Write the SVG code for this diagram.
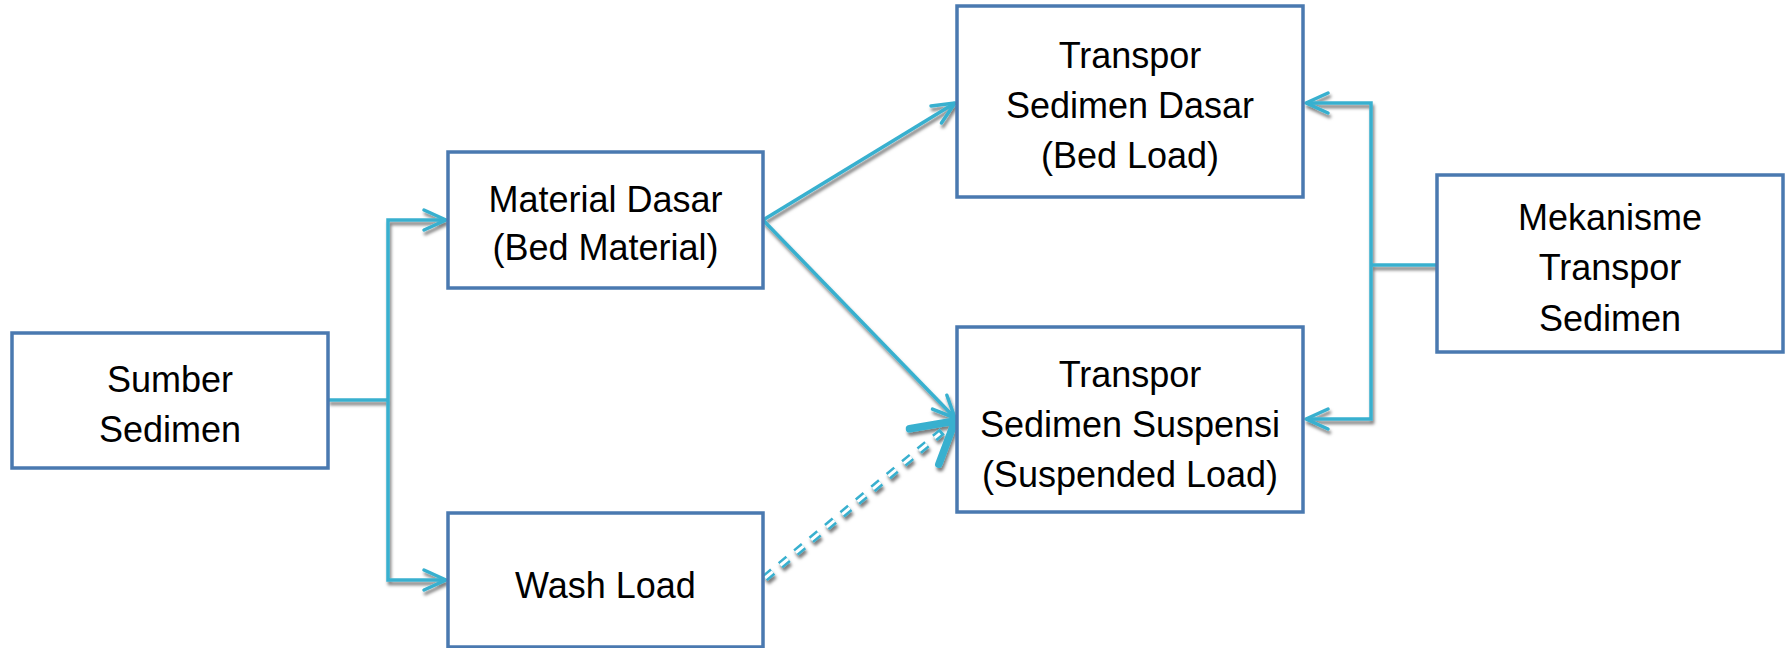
<svg xmlns="http://www.w3.org/2000/svg" width="1789" height="648" viewBox="0 0 1789 648">
<style>
.box{fill:#ffffff;stroke:#4A79B0;stroke-width:3.5}
.lbl{font-family:"Liberation Sans",Arial,sans-serif;font-size:36px;fill:#000;text-anchor:middle}
.con{fill:none;stroke:#38B0CF;stroke-width:3.5;stroke-linejoin:miter}
</style>
<defs>
<filter id="sh" x="-10%" y="-10%" width="120%" height="130%">
<feDropShadow dx="1.5" dy="3.5" stdDeviation="1.8" flood-color="#000" flood-opacity="0.5"/>
</filter>
<marker id="ah" markerUnits="userSpaceOnUse" markerWidth="60" markerHeight="60" refX="0" refY="0" orient="auto" overflow="visible">
<path d="M-22,-10 L0,0 L-22,10" fill="none" stroke="#38B0CF" stroke-width="3.5" stroke-linecap="round" stroke-linejoin="round"/>
</marker>
<marker id="ahb" markerUnits="userSpaceOnUse" markerWidth="100" markerHeight="100" refX="0" refY="0" orient="auto" overflow="visible">
<path d="M-40,-23 L0,0 L-40,23" fill="none" stroke="#38B0CF" stroke-width="7.5" stroke-linecap="round" stroke-linejoin="round"/>
</marker>
</defs>
<rect width="1789" height="648" fill="#ffffff"/>
<g id="connectors" filter="url(#sh)">
<path class="con" d="M328,400 H388"/>
<path class="con" d="M388,400 V220 H446" marker-end="url(#ah)"/>
<path class="con" d="M388,400 V580 H446" marker-end="url(#ah)"/>
<path class="con" d="M763,220 L955,103" marker-end="url(#ah)"/>
<path class="con" d="M763,220 L955,418" marker-end="url(#ah)"/>
<path class="con" d="M1437,265 H1371"/>
<path class="con" d="M1371,265 V103 H1306" marker-end="url(#ah)"/>
<path class="con" d="M1371,265 V419 H1306" marker-end="url(#ah)"/>
<g id="dashed">
<path d="M765,578 L955,421" fill="none" stroke="#38B0CF" stroke-width="8" stroke-dasharray="10 10" marker-end="url(#ahb)"/>
<path d="M765,578 L940,433.4" fill="none" stroke="#ffffff" stroke-width="3" stroke-dasharray="10 10"/>
</g>
</g>
<g id="sumber">
<rect class="box" x="12" y="333" width="316" height="135"/>
<text class="lbl" x="170" y="392">Sumber</text>
<text class="lbl" x="170" y="442">Sedimen</text>
</g>
<g id="material">
<rect class="box" x="448" y="152" width="315" height="136"/>
<text class="lbl" x="605.5" y="212">Material Dasar</text>
<text class="lbl" x="605.5" y="260">(Bed Material)</text>
</g>
<g id="wash">
<rect class="box" x="448" y="513" width="315" height="134"/>
<text class="lbl" x="605.5" y="598">Wash Load</text>
</g>
<g id="dasar">
<rect class="box" x="957" y="6" width="346" height="191"/>
<text class="lbl" x="1130" y="68">Transpor</text>
<text class="lbl" x="1130" y="118">Sedimen Dasar</text>
<text class="lbl" x="1130" y="168">(Bed Load)</text>
</g>
<g id="suspensi">
<rect class="box" x="957" y="327" width="346" height="185"/>
<text class="lbl" x="1130" y="387">Transpor</text>
<text class="lbl" x="1130" y="437">Sedimen Suspensi</text>
<text class="lbl" x="1130" y="487">(Suspended Load)</text>
</g>
<g id="mekanisme">
<rect class="box" x="1437" y="175" width="346" height="177"/>
<text class="lbl" x="1610" y="230">Mekanisme</text>
<text class="lbl" x="1610" y="280">Transpor</text>
<text class="lbl" x="1610" y="331">Sedimen</text>
</g>
</svg>
